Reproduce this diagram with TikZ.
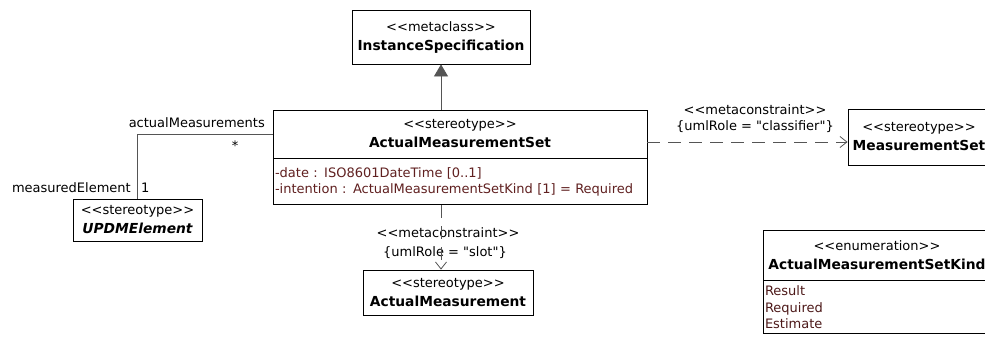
\documentclass[tikz,border=0pt]{standalone}
\usepackage{fontspec}
\setmainfont{DejaVu Sans}[Ligatures=TeXOff]
\usetikzlibrary{arrows.meta}
\definecolor{attrtext}{HTML}{602020}
\definecolor{linkgray}{HTML}{555555}
\newcommand{\umlname}[1]{{\fontsize{13.8}{19}\selectfont\bfseries #1}}

\begin{document}
\begin{tikzpicture}[x=1pt, y=-1pt,
    classbox/.style={rectangle, draw=black, line width=0.8pt, fill=white, inner sep=2pt, align=center, font=\fontsize{13}{19}\selectfont},
    attrbox/.style={rectangle, draw=black, line width=0.8pt, fill=white, inner sep=2pt, align=left, text=attrtext, font=\fontsize{13}{16.5}\selectfont},
    lbl/.style={inner sep=0pt, font=\fontsize{13}{16}\selectfont},
    gen/.style={-{Triangle[length=12pt, width=14pt]}, line width=0.8pt, linkgray},
    dep/.style={-{Straight Barb[length=7pt, width=11pt]}, line width=0.8pt, linkgray, dash pattern=on 13pt off 8pt},
    assoc/.style={line width=0.8pt, linkgray}
]
    \useasboundingbox (0,0) rectangle (985,343);
    \clip (0,0) rectangle (985,343);

    % Classes
    \node[classbox, minimum width=178pt, minimum height=54pt] (instSpec) at (441,37) {<<metaclass>>\\\umlname{InstanceSpecification}};
    \node[classbox, minimum width=374pt, minimum height=48pt] (amsHead) at (460,134) {<<stereotype>>\\\umlname{ActualMeasurementSet}};
    \node[attrbox, anchor=north, text width=370pt, minimum height=46pt] (amsAttr) at (amsHead.south) {-date : ISO8601DateTime [0..1]\\-intention : ActualMeasurementSetKind [1] = Required};
    \node[classbox, minimum width=129pt, minimum height=42pt] (updm) at (137.5,220) {<<stereotype>>\\\umlname{\itshape UPDMElement}};
    \node[classbox, minimum width=170pt, minimum height=45pt] (actMeas) at (448,292.5) {<<stereotype>>\\\umlname{ActualMeasurement}};
    \node[classbox, minimum width=142pt, minimum height=56pt] (measSet) at (919,137) {<<stereotype>>\\\umlname{MeasurementSet}};
    \node[classbox, minimum width=228pt, minimum height=50pt] (enumHead) at (877,255) {<<enumeration>>\\\umlname{ActualMeasurementSetKind}};
    \node[attrbox, anchor=north, text width=224pt, minimum height=53pt, text=attrtext!80!black] (enumItems) at (enumHead.south) {Result\\Required\\Estimate};

    % Labels
    \node[lbl] (mcRight) at (755,110) {<<metaconstraint>>};
    \node[lbl] (roleRight) at (755,127) {\{umlRole = "classifier"\}};
    \node[lbl] (mcDown) at (448,233) {<<metaconstraint>>};
    \node[lbl] (roleDown) at (445,253) {\{umlRole = "slot"\}};
    \node[lbl, anchor=east] (roleAms) at (265,123) {actualMeasurements};
    \node[lbl] (multAms) at (235,146) {*};
    \node[lbl, anchor=east] (roleMeas) at (131,188) {measuredElement};
    \node[lbl, anchor=west] (multMeas) at (141,188) {1};

    % Connectors
    \draw[gen] (instSpec.south |- amsHead.north) -- (instSpec.south);
    \draw[assoc] (amsHead.west) -| (updm.north);
    \draw[dep] ([yshift=-8pt]amsHead.east) -- ([yshift=-8pt]amsHead.east -| measSet.west);
    \draw[dep] (amsAttr.south -| instSpec.south) -- (actMeas.north -| instSpec.south);
\end{tikzpicture}
\end{document}
